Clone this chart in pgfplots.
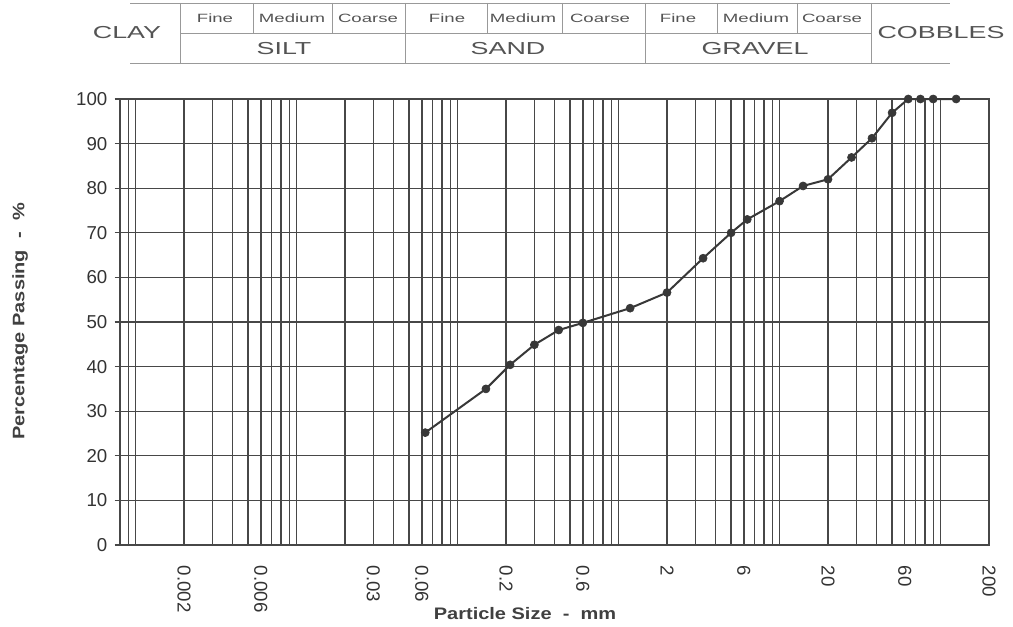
\documentclass[border=0pt]{standalone}
\usepackage{fontspec}
\setmainfont{Liberation Sans}
\newfontfamily\hdrfont[FakeStretch=1.55]{Liberation Sans}
\newfontfamily\lblfont[FakeStretch=1.2]{Liberation Sans}
\usepackage{pgfplots}
\pgfplotsset{compat=1.18}
\definecolor{gridc}{gray}{0.28}
\definecolor{datac}{gray}{0.22}
\definecolor{hdrline}{gray}{0.60}
\definecolor{hdrtext}{gray}{0.33}
\begin{document}
\begin{tikzpicture}
\useasboundingbox (0,0) rectangle (759.75pt,-470.25pt);
\begin{axis}[
  at={(90pt,-408.75pt)}, anchor=south west,
  scale only axis, width=651.75pt, height=334.5pt,
  xmode=log, log basis x=10,
  xmin=0.0008, xmax=200, ymin=0, ymax=100,
  clip=false,
  xtick={0.0008,0.0009,0.001,0.002,0.003,0.004,0.005,0.006,0.007,0.008,0.009,
         0.01,0.02,0.03,0.04,0.05,0.06,0.07,0.08,0.09,
         0.1,0.2,0.3,0.4,0.5,0.6,0.7,0.8,0.9,
         1,2,3,4,5,6,7,8,9,10,20,30,40,50,60,70,80,90,100,200},
  xticklabels={},
  major x tick style={draw=none},
  extra x ticks={0.002,0.006,0.03,0.06,0.2,0.6,2,6,20,60,200},
  extra x tick labels={0.002,0.006,0.03,0.06,0.2,0.6,2,6,20,60,200},
  extra x tick style={grid=none, major tick length=0pt,
     xticklabel style={yshift=-12pt, rotate=-90, anchor=west}},
  ytick={0,10,...,100},
  ytick pos=left, tick align=outside, major tick length=4pt,
  major y tick style={gridc, line width=1pt},
  grid=major,
  major grid style={gridc, line width=1pt},
  axis line style={gridc, line width=1pt},
  /pgf/number format/assume math mode=true,
  tick label style={font=\fontsize{14}{14}\selectfont, text=black!80},
  yticklabel style={xshift=-2pt},
]
\addplot[datac, line width=1.5pt, mark=*, mark size=3pt,
  mark options={fill=datac, draw=datac, line width=0.5pt}] table {
x y
0.063 25.2
0.15 35.0
0.212 40.4
0.3 44.9
0.425 48.2
0.6 49.8
1.18 53.1
2 56.6
3.35 64.3
5 70.0
6.3 73.0
10 77.1
14 80.5
20 82.0
28 86.9
37.5 91.2
50 96.9
63 100
75 100
90 100
125 100
};
\end{axis}
\begin{scope}[x=0.75pt,y=-0.75pt]
\draw[hdrline, line width=0.7pt] (130,3) -- (950,3);
\draw[hdrline, line width=0.7pt] (180,33) -- (871,33);
\draw[hdrline, line width=0.7pt] (130,63) -- (950,63);
\foreach \x in {180,405,645,871} \draw[hdrline, line width=0.7pt] (\x,3) -- (\x,63);
\foreach \x in {253,332,487,562,717,797} \draw[hdrline, line width=0.7pt] (\x,3) -- (\x,33);
\begin{scope}[every node/.style={text=hdrtext, inner sep=0pt}]
\node[font=\hdrfont\fontsize{13}{13}\selectfont] at (127,33) {CLAY};
\node[font=\hdrfont\fontsize{13}{13}\selectfont] at (941,33) {COBBLES};
\node[font=\hdrfont\fontsize{13}{13}\selectfont] at (284,49) {SILT};
\node[font=\hdrfont\fontsize{13}{13}\selectfont] at (508,49) {SAND};
\node[font=\hdrfont\fontsize{13}{13}\selectfont] at (755,49) {GRAVEL};
\node[font=\hdrfont\fontsize{9}{9}\selectfont] at (215,18) {Fine};
\node[font=\hdrfont\fontsize{9}{9}\selectfont] at (292,18) {Medium};
\node[font=\hdrfont\fontsize{9}{9}\selectfont] at (368,18) {Coarse};
\node[font=\hdrfont\fontsize{9}{9}\selectfont] at (447,18) {Fine};
\node[font=\hdrfont\fontsize{9}{9}\selectfont] at (523,18) {Medium};
\node[font=\hdrfont\fontsize{9}{9}\selectfont] at (600,18) {Coarse};
\node[font=\hdrfont\fontsize{9}{9}\selectfont] at (678,18) {Fine};
\node[font=\hdrfont\fontsize{9}{9}\selectfont] at (756,18) {Medium};
\node[font=\hdrfont\fontsize{9}{9}\selectfont] at (832,18) {Coarse};
\end{scope}
\node[rotate=90, font=\lblfont\bfseries\fontsize{12.5}{12.5}\selectfont, text=black!75] at (20,321.5) {Percentage Passing \ - \ \%};
\node[font=\lblfont\bfseries\fontsize{12.5}{12.5}\selectfont, text=black!75] at (525,614) {Particle Size \ - \ mm};
\end{scope}
\end{tikzpicture}
\end{document}
